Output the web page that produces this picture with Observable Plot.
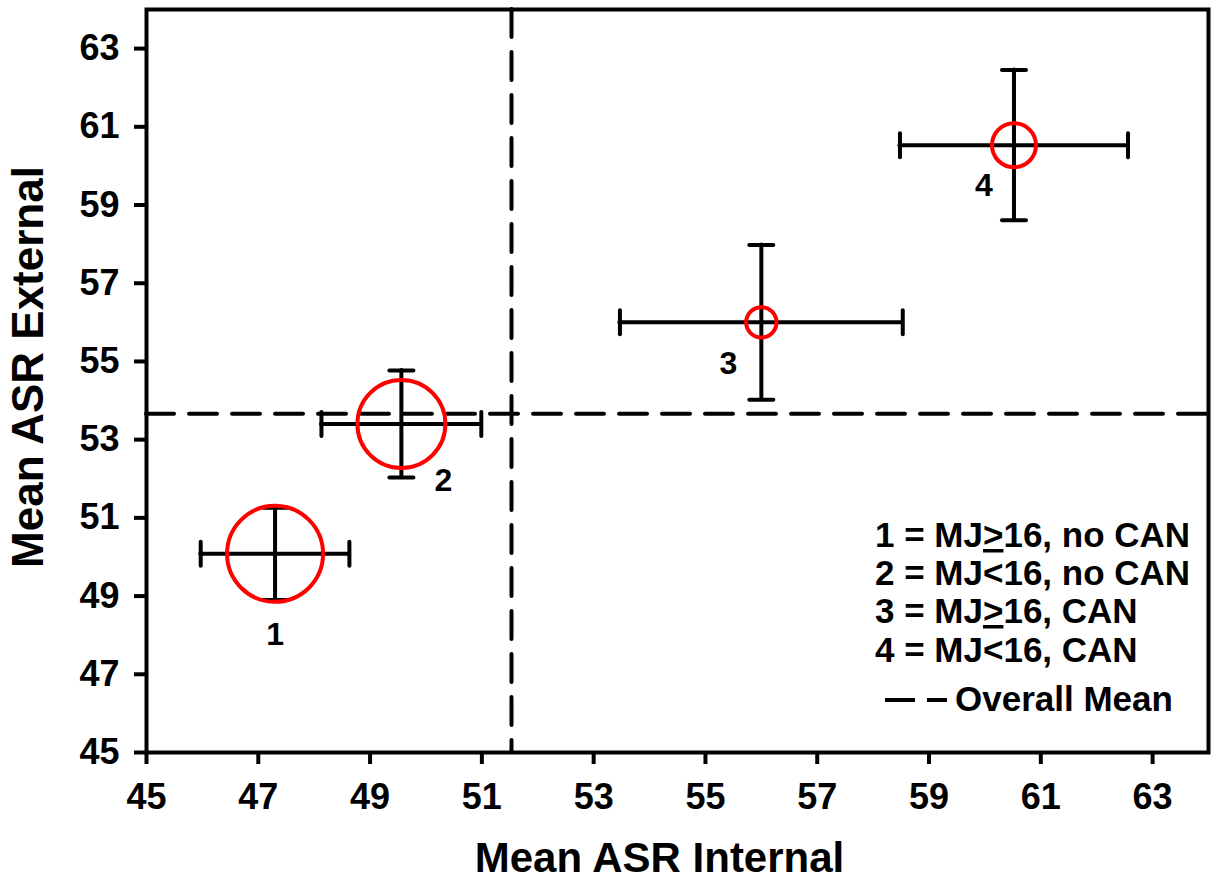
<!DOCTYPE html>
<html>
<head>
<meta charset="utf-8">
<script src="https://cdn.jsdelivr.net/npm/d3@7"></script>
<script src="https://cdn.jsdelivr.net/npm/@observablehq/plot@0.6"></script>
<style>
  html, body { margin: 0; padding: 0; background: #fff; }
  #chart { width: 1215px; height: 880px; }
</style>
</head>
<body>
<div id="chart"></div>
<script>
// ---- data ----
const groups = ["1", "2", "3", "4"];
const meanInternal = [47.30, 49.56, 56.00, 60.52];
const meanExternal = [50.08, 53.40, 56.00, 60.53];
const internalErr = [1.33, 1.43, 2.53, 2.04];
const externalErr = [1.18, 1.37, 1.98, 1.92];
const relativeN = [100, 84, 10, 21];
const overallInternal = 51.53;
const overallExternal = 53.66;
const xTicks = [45, 47, 49, 51, 53, 55, 57, 59, 61, 63];
const yTicks = [45, 47, 49, 51, 53, 55, 57, 59, 61, 63];
const xLabel = "Mean ASR Internal";
const yLabel = "Mean ASR External";
const legendItems = [
  ["1 = MJ", ">", "16, no CAN"],
  ["2 = MJ<16, no CAN"],
  ["3 = MJ", ">", "16, CAN"],
  ["4 = MJ<16, CAN"]
];
const meanLegend = "Overall Mean";

// ---- table ----
const rows = groups.map((g, i) => ({
  g, x: meanInternal[i], y: meanExternal[i],
  ex: internalErr[i], ey: externalErr[i], n: relativeN[i]
}));
const hCaps = rows.flatMap(d => [{x: d.x - d.ex, y: d.y}, {x: d.x + d.ex, y: d.y}]);
const vCaps = rows.flatMap(d => [{x: d.x, y: d.y - d.ey}, {x: d.x, y: d.y + d.ey}]);

const vLine = {draw(ctx, size) { const h = Math.sqrt(size / Math.PI); ctx.moveTo(0, -h); ctx.lineTo(0, h); }};
const hLine = {draw(ctx, size) { const h = Math.sqrt(size / Math.PI); ctx.moveTo(-h, 0); ctx.lineTo(h, 0); }};

const font = "'Liberation Sans', Arial, sans-serif";
const labelOffsets = [[0, 81], [42, 57], [-33, 41], [-30, 41]];

const svg = Plot.plot({
  width: 1215,
  height: 880,
  marginLeft: 146,
  marginTop: 9,
  marginRight: 7,
  marginBottom: 128,
  style: {fontFamily: font, color: "#000", background: "#fff"},
  x: {domain: [45, 64]},
  y: {domain: [45, 64]},
  r: {type: "sqrt", domain: [0, 100], range: [0, 48]},
  marks: [
    Plot.axisX({ticks: xTicks, tickSize: 12, tickPadding: 19, fontSize: 36, fontWeight: "bold", strokeWidth: 4, label: null}),
    Plot.axisY({ticks: yTicks, tickSize: 12, tickPadding: 15, fontSize: 36, fontWeight: "bold", strokeWidth: 4, label: null}),
    Plot.ruleX([overallInternal], {stroke: "#000", strokeWidth: 4, strokeDasharray: "28,15", strokeLinecap: "round"}),
    Plot.ruleY([overallExternal], {stroke: "#000", strokeWidth: 4, strokeDasharray: "28,15", strokeLinecap: "round"}),
    Plot.ruleY(rows, {y: "y", x1: d => d.x - d.ex, x2: d => d.x + d.ex, stroke: "#000", strokeWidth: 4, strokeLinecap: "round"}),
    Plot.ruleX(rows, {x: "x", y1: d => d.y - d.ey, y2: d => d.y + d.ey, stroke: "#000", strokeWidth: 4, strokeLinecap: "round"}),
    Plot.dot(hCaps, {x: "x", y: "y", symbol: vLine, r: 12, fill: "none", stroke: "#000", strokeWidth: 4, strokeLinecap: "round"}),
    Plot.dot(vCaps, {x: "x", y: "y", symbol: hLine, r: 12, fill: "none", stroke: "#000", strokeWidth: 4, strokeLinecap: "round"}),
    Plot.dot(rows, {x: "x", y: "y", r: "n", fill: "none", stroke: "#ff0000", strokeWidth: 4}),
    ...rows.map((d, i) => Plot.text([d], {x: "x", y: "y", text: "g", dx: labelOffsets[i][0], dy: labelOffsets[i][1], fontSize: 32, fontWeight: "bold", fill: "#000", lineAnchor: "middle"})),
    Plot.frame({stroke: "#000", strokeWidth: 4}),
    Plot.text([xLabel], {frameAnchor: "bottom", dx: -18, dy: 106, fontSize: 42, fontWeight: "bold", fill: "#000", lineAnchor: "middle", textAnchor: "middle"}),
    Plot.text([yLabel], {frameAnchor: "left", dx: -118, dy: -14, rotate: -90, fontSize: 44, fontWeight: "bold", fill: "#000", lineAnchor: "middle", textAnchor: "middle"})
  ]
});

// ---- legend (inside the plot frame) ----
const s = d3.select(svg);
const lg = s.append("g").attr("font-family", font).attr("font-weight", "bold").attr("font-size", 35)
  .attr("fill", "#000").attr("text-anchor", "start");
const baselines = [547, 585, 623, 662];
legendItems.forEach((parts, i) => {
  const t = lg.append("text").attr("x", 875).attr("y", baselines[i]).attr("text-anchor", "start");
  if (parts.length === 3) {
    t.append("tspan").text(parts[0]);
    t.append("tspan").attr("text-decoration", "underline").text(parts[1]);
    t.append("tspan").text(parts[2]);
  } else {
    t.text(parts[0]);
  }
});
lg.append("line").attr("x1", 885).attr("x2", 947).attr("y1", 700).attr("y2", 700)
  .attr("stroke", "#000").attr("stroke-width", 4).attr("stroke-dasharray", "30,12");
lg.append("text").attr("x", 955).attr("y", 711).attr("text-anchor", "start").text(meanLegend);

document.getElementById("chart").appendChild(svg);
</script>
</body>
</html>
